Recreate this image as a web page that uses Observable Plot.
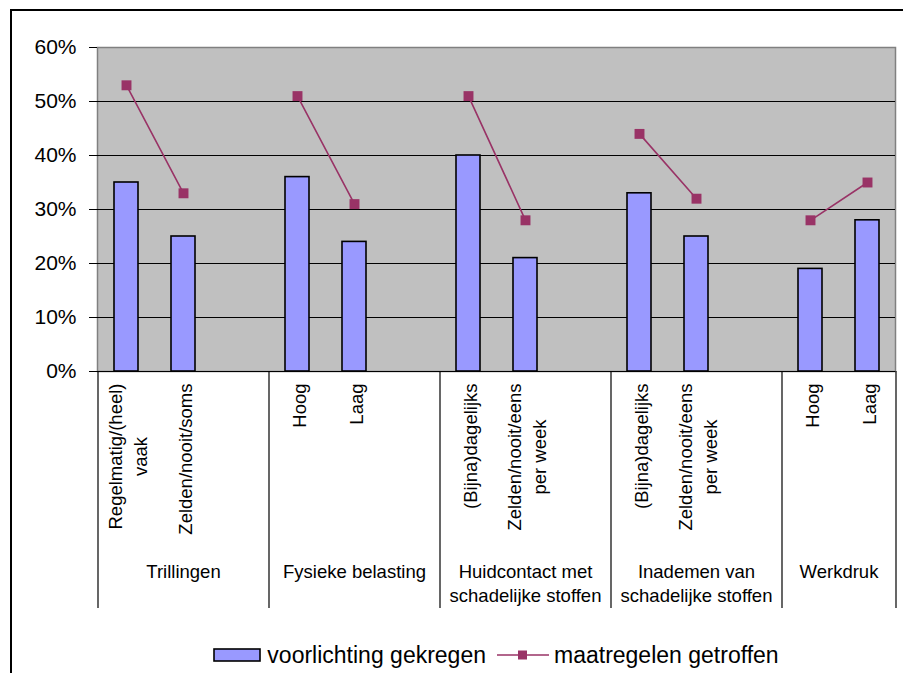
<!DOCTYPE html>
<html>
<head>
<meta charset="utf-8">
<script src="https://cdn.jsdelivr.net/npm/d3@7"></script>
<script src="https://cdn.jsdelivr.net/npm/@observablehq/plot@0.6"></script>
<style>
  html, body { margin: 0; padding: 0; background: #fff; overflow: hidden; }
  body { width: 903px; height: 673px; position: relative; font-family: "Liberation Sans", Arial, sans-serif; }
  #border { position: absolute; left: 10px; top: 9px; width: 1000px; height: 1000px; border: 2px solid #000; box-sizing: border-box; pointer-events: none; }
  #chart { position: absolute; left: 0; top: 0; }
  #legend { position: absolute; left: 97px; top: 642px; width: 798px; height: 26px; display: flex; justify-content: center; align-items: center; font-size: 23px; color: #000; white-space: nowrap; }
  #legend svg { display: block; }
</style>
</head>
<body>
<div id="chart"></div>
<div id="border"></div>
<div id="legend">
  <svg width="48" height="14"><rect x="1" y="1" width="46" height="12" fill="#9999FF" stroke="#000" stroke-width="1.6"></rect></svg>
  <span style="margin-left:6px">voorlichting gekregen</span>
  <svg width="52" height="14" style="margin-left:11px"><line x1="0" y1="7" x2="52" y2="7" stroke="#993366" stroke-width="1.5"></line><rect x="21" y="2.5" width="9" height="9" fill="#993366"></rect></svg>
  <span style="margin-left:5px">maatregelen getroffen</span>
</div>
<script>
// ---- data ----
const groups = ["Trillingen", "Fysieke belasting", "Huidcontact met\nschadelijke stoffen", "Inademen van\nschadelijke stoffen", "Werkdruk"];
const categories = ["Regelmatig/(heel)\nvaak", "Zelden/nooit/soms", "Hoog", "Laag", "(Bijna)dagelijks", "Zelden/nooit/eens\nper week", "(Bijna)dagelijks", "Zelden/nooit/eens\nper week", "Hoog", "Laag"];
const categoryGroup = [0, 0, 1, 1, 2, 2, 3, 3, 4, 4];
const voorlichting = [35, 25, 36, 24, 40, 21, 33, 25, 19, 28];
const maatregelen = [53, 33, 51, 31, 51, 28, 44, 32, 28, 35];
const yTicks = [0, 10, 20, 30, 40, 50, 60];

// ---- layout ----
const W = 903, H = 630;
const mL = 97, mR = 8, mT = 47, mB = 259;
const nSlots = groups.length * 3 - 1; // one empty slot between groups
const step = (W - mL - mR) / nSlots;
const font = 18.5;
const fontFamily = "'Liberation Sans', Arial, sans-serif";

const rows = categories.map((c, i) => ({
  slot: categoryGroup[i] * 3 + (i % 2),
  label: c,
  group: categoryGroup[i],
  voorlichting: voorlichting[i],
  maatregelen: maatregelen[i]
}));
const groupRows = groups.map((g, k) => ({name: g, slot: k * 3 + 1, last: k === groups.length - 1}));
const innerGroups = groupRows.filter(d => !d.last);
const lastGroup = groupRows.filter(d => d.last).map(d => ({...d, slot: d.slot - 1}));
const leftBoundaries = groups.map((g, k) => k * 3);
const rightBoundary = [nSlots - 1];

// measure label lengths so multi-line rotated labels are centred line by line
const ctx = document.createElement("canvas").getContext("2d");
ctx.font = `${font}px ${fontFamily}`;
const blockLen = s => d3.max(s.split("\n"), l => ctx.measureText(l).width);

const sepInsetTop = (H - mB) - mT;
const sepExtend = 237;
const labelGap = 12;

const labelMarks = rows.map(r =>
  Plot.text([r], {x: "slot", text: "label", frameAnchor: "bottom", rotate: -90, textAnchor: "middle", lineAnchor: "middle",
    dy: labelGap + blockLen(r.label) / 2, fontSize: font, lineHeight: 1.35, fill: "#000"})
);

const chart = Plot.plot({
  width: W,
  height: H,
  marginLeft: mL,
  marginRight: mR,
  marginTop: mT,
  marginBottom: mB,
  style: {fontFamily, background: "transparent", color: "#000", overflow: "visible"},
  x: {type: "band", domain: d3.range(nSlots), paddingInner: 0.58, paddingOuter: 0.29, axis: null},
  y: {domain: [0, 60], axis: null},
  marks: [
    Plot.frame({fill: "#C0C0C0", stroke: "#808080", strokeWidth: 1.5}),
    Plot.gridY(yTicks.filter(d => d > 0 && d < 60), {stroke: "#000", strokeOpacity: 1, strokeWidth: 1}),
    Plot.barY(rows, {x: "slot", y: "voorlichting", fill: "#9999FF", stroke: "#000", strokeWidth: 1.6}),
    Plot.line(rows, {x: "slot", y: "maatregelen", z: "group", stroke: "#993366", strokeWidth: 1.6}),
    Plot.dot(rows, {x: "slot", y: "maatregelen", symbol: "square", r: 5.6, fill: "#993366", stroke: "none"}),
    Plot.ruleY([0], {stroke: "#000", strokeWidth: 1.2}),
    Plot.axisY(yTicks, {tickSize: 8, tickPadding: 13, tickFormat: d => d + "%", fontSize: 21, stroke: "#000", fill: "#000"}),
    Plot.ruleX(leftBoundaries, {x: d => d, dx: -step / 2, insetTop: sepInsetTop, insetBottom: -sepExtend, stroke: "#000", strokeWidth: 1.2}),
    Plot.ruleX(rightBoundary, {x: d => d, dx: step / 2, insetTop: sepInsetTop, insetBottom: -sepExtend, stroke: "#000", strokeWidth: 1.2}),
    ...labelMarks,
    Plot.text(innerGroups, {x: "slot", text: "name", frameAnchor: "bottom", lineAnchor: "top", dy: 189, fontSize: font, lineHeight: 1.3, fill: "#000"}),
    Plot.text(lastGroup, {x: "slot", text: "name", frameAnchor: "bottom", lineAnchor: "top", dx: step / 2, dy: 189, fontSize: font, lineHeight: 1.3, fill: "#000"})
  ]
});
document.getElementById("chart").appendChild(chart);
</script>
</body>
</html>
